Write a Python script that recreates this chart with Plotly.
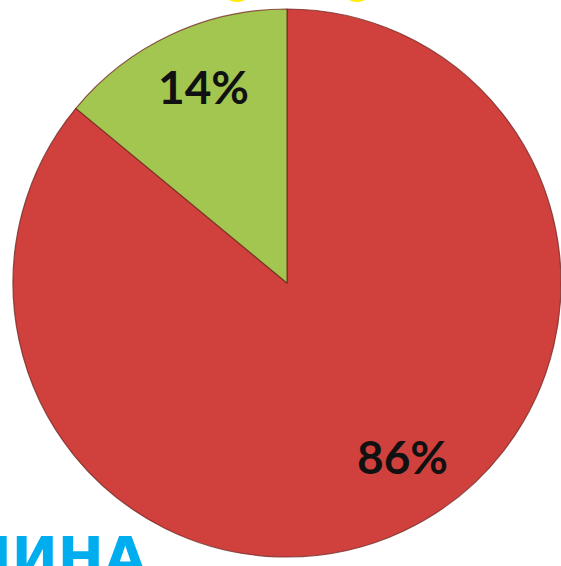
import math
import plotly.graph_objects as go

labels = ["Нет", "Да"]
values = [86, 14]
colors = ["#D0413E", "#A2C650"]
text_labels = ["86%", "14%"]

W, H = 561, 566

# pie placement (styling)
DOM_X = [13 / W, 1.0]
DOM_Y = [0.0, 1.0]
LABEL_R = 0.77                 # radial fraction for the labels
LABEL_ANGLE_TWEAK = [-8, 2]    # degrees, per slice (label placement style)
LABEL_LIFT = 3                 # px, optical lift of the labels

fig = go.Figure()
fig.add_trace(go.Pie(
    labels=labels,
    values=values,
    sort=False,
    direction="clockwise",
    rotation=0,
    marker=dict(colors=colors, line=dict(color="rgba(110,35,30,0.75)", width=1.2)),
    textinfo="none",
    domain=dict(x=DOM_X, y=DOM_Y),
    showlegend=False,
    hoverinfo="label+percent",
))

# percentage labels, positioned from the values via the pie geometry
wpx = (DOM_X[1] - DOM_X[0]) * W
hpx = (DOM_Y[1] - DOM_Y[0]) * H
r = min(wpx, hpx) / 2
cx = (DOM_X[0] + DOM_X[1]) / 2 * W
cy = (1 - (DOM_Y[0] + DOM_Y[1]) / 2) * H
total = sum(values)
start = 0.0
for v, t, tw in zip(values, text_labels, LABEL_ANGLE_TWEAK):
    mid = start + v / total * 360 / 2
    start += v / total * 360
    a = math.radians(mid + tw)
    px = cx + LABEL_R * r * math.sin(a)
    py = cy - LABEL_R * r * math.cos(a) - LABEL_LIFT
    fig.add_annotation(
        text=t, xref="paper", yref="paper",
        x=px / W, y=1 - py / H, xanchor="center", yanchor="middle",
        showarrow=False,
        font=dict(family="Lato", size=46, color="#111111", weight="bold"),
    )

# cut-off title fragments around the chart
fig.add_annotation(
    text="ПРИЧИНА", xref="paper", yref="paper",
    x=148 / W, y=1 - 524 / H, xanchor="right", yanchor="top",
    showarrow=False, borderpad=0,
    font=dict(family="DejaVu Sans", size=55, color="#00AEEF", weight="bold"),
)
fig.add_annotation(
    text="О        О", xref="paper", yref="paper",
    x=297 / W, y=1 - 11 / H, xanchor="center", yanchor="bottom",
    showarrow=False, borderpad=0,
    font=dict(family="Liberation Sans", size=40, color="#FFEE00", weight="bold"),
)

fig.update_layout(
    width=W, height=H,
    margin=dict(l=0, r=0, t=0, b=0),
    paper_bgcolor="white",
    plot_bgcolor="white",
)

fig.write_html(
    "out.html",
    config={"displayModeBar": False},
    post_script="document.body.style.margin='0';document.body.style.overflow='hidden';",
)
